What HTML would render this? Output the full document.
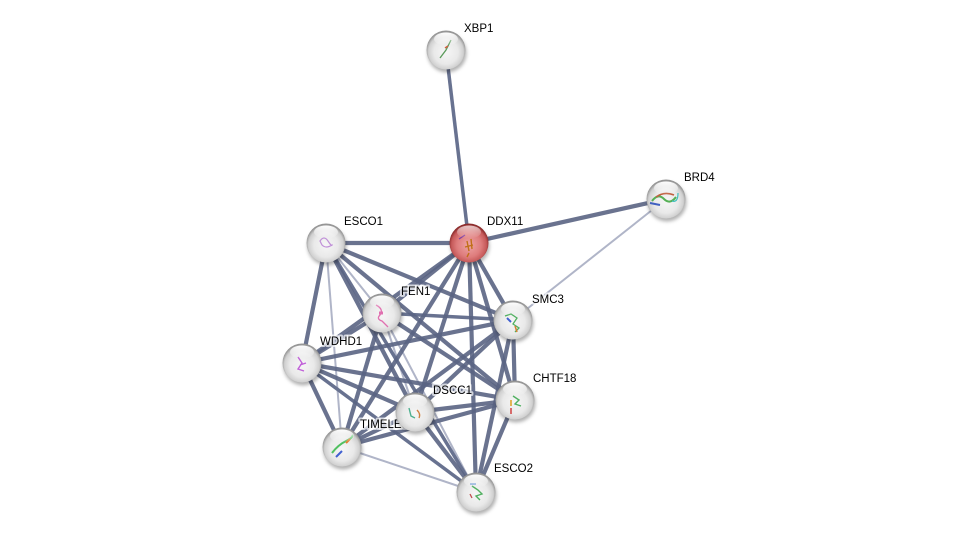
<!DOCTYPE html>
<html><head><meta charset="utf-8"><style>
html,body{margin:0;padding:0;background:#fff;}
svg{display:block;}
.lb{font-family:"Liberation Sans",Arial,sans-serif;font-size:11.5px;fill:#000;paint-order:stroke;stroke:rgba(255,255,255,0.7);stroke-width:4px;stroke-linejoin:round;}
</style></head><body>
<svg width="975" height="536" viewBox="0 0 975 536" xmlns="http://www.w3.org/2000/svg">
<defs>
<radialGradient id="g" cx="50%" cy="55%" r="52%">
<stop offset="0%" stop-color="#f6f6f6"/><stop offset="60%" stop-color="#e9e9e9"/><stop offset="86%" stop-color="#d0d0d0"/><stop offset="100%" stop-color="#959595"/>
</radialGradient>
<radialGradient id="r" cx="50%" cy="55%" r="52%">
<stop offset="0%" stop-color="#eea5a5"/><stop offset="60%" stop-color="#de7c7c"/><stop offset="86%" stop-color="#c65a5a"/><stop offset="100%" stop-color="#8c2c2c"/>
</radialGradient>
<linearGradient id="h" x1="0" y1="0" x2="0" y2="1">
<stop offset="0%" stop-color="#fff" stop-opacity="1"/><stop offset="100%" stop-color="#fff" stop-opacity="0"/>
</linearGradient>
<filter id="sh" x="-50%" y="-50%" width="200%" height="200%"><feGaussianBlur stdDeviation="1.8"/></filter>
</defs>
<g stroke-linecap="butt" fill="none">
<g stroke="#b0b5c8" stroke-width="2">
<line x1="666" y1="199" x2="513" y2="320"/>
<line x1="326" y1="243" x2="342" y2="447"/>
<line x1="326" y1="243" x2="382" y2="313"/>
<line x1="382" y1="313" x2="415" y2="412"/>
<line x1="382" y1="313" x2="476" y2="492"/>
<line x1="342" y1="447" x2="476" y2="492"/>
</g>
<g stroke="#687290" stroke-width="3.5">
<line x1="446" y1="50" x2="469" y2="243"/>
<line x1="326" y1="243" x2="476" y2="492"/>
<line x1="382" y1="313" x2="513" y2="320"/>
<line x1="302" y1="363" x2="476" y2="492"/>
</g>
<g stroke="#5a6483" stroke-width="4.2" stroke-opacity="0.9">
<line x1="469" y1="243" x2="666" y2="199"/>
<line x1="469" y1="243" x2="326" y2="243"/>
<line x1="469" y1="243" x2="382" y2="313"/>
<line x1="469" y1="243" x2="513" y2="320"/>
<line x1="469" y1="243" x2="302" y2="363"/>
<line x1="469" y1="243" x2="515" y2="400"/>
<line x1="469" y1="243" x2="415" y2="412"/>
<line x1="469" y1="243" x2="342" y2="447"/>
<line x1="469" y1="243" x2="476" y2="492"/>
<line x1="326" y1="243" x2="302" y2="363"/>
<line x1="326" y1="243" x2="513" y2="320"/>
<line x1="326" y1="243" x2="515" y2="400"/>
<line x1="326" y1="243" x2="415" y2="412"/>
<line x1="382" y1="313" x2="302" y2="363"/>
<line x1="382" y1="313" x2="515" y2="400"/>
<line x1="382" y1="313" x2="342" y2="447"/>
<line x1="513" y1="320" x2="302" y2="363"/>
<line x1="513" y1="320" x2="515" y2="400"/>
<line x1="513" y1="320" x2="415" y2="412"/>
<line x1="513" y1="320" x2="342" y2="447"/>
<line x1="513" y1="320" x2="476" y2="492"/>
<line x1="302" y1="363" x2="515" y2="400"/>
<line x1="302" y1="363" x2="415" y2="412"/>
<line x1="302" y1="363" x2="342" y2="447"/>
<line x1="515" y1="400" x2="415" y2="412"/>
<line x1="515" y1="400" x2="342" y2="447"/>
<line x1="515" y1="400" x2="476" y2="492"/>
<line x1="415" y1="412" x2="342" y2="447"/>
<line x1="415" y1="412" x2="476" y2="492"/>
</g>
</g>
<g>
<text class="lb" x="464" y="32">XBP1</text>
<text class="lb" x="684" y="181">BRD4</text>
<text class="lb" x="487" y="225">DDX11</text>
<text class="lb" x="344" y="225">ESCO1</text>
<text class="lb" x="401" y="295">FEN1</text>
<text class="lb" x="532" y="303">SMC3</text>
<text class="lb" x="320" y="345">WDHD1</text>
<text class="lb" x="533" y="382">CHTF18</text>
<text class="lb" x="433" y="394">DSCC1</text>
<text class="lb" x="360" y="428">TIMELESS</text>
<text class="lb" x="494" y="472">ESCO2</text>
</g>
<g id="nodes">
<g transform="translate(446,50)"><circle cx="1" cy="3" r="19.5" fill="rgba(0,0,0,0.3)" filter="url(#sh)"/><circle r="19.5" fill="url(#g)"/><path d="M-6 8 L0 0 L3 -6 L5 -10" stroke="#5a9a5a" stroke-width="1.3" fill="none"/><path d="M-1 -2 L2 -4" stroke="#d06040" stroke-width="1.5"/><ellipse cx="0" cy="-11" rx="12" ry="6.5" fill="url(#h)"/></g>
<g transform="translate(666,199)"><circle cx="1" cy="3" r="19.5" fill="rgba(0,0,0,0.3)" filter="url(#sh)"/><circle r="19.5" fill="url(#g)"/><path d="M-14 2 Q-8 -6 -2 0 T10 -2" stroke="#55b055" stroke-width="2" fill="none"/><path d="M-10 -2 Q-2 -8 8 -4" stroke="#c06040" stroke-width="1.6" fill="none"/><path d="M-16 4 L-6 6" stroke="#4060c0" stroke-width="2"/><path d="M6 2 Q12 4 12 -6" stroke="#40c0c0" stroke-width="1.2" fill="none"/><ellipse cx="0" cy="-11" rx="12" ry="6.5" fill="url(#h)"/></g>
<g transform="translate(469,243)"><circle cx="1" cy="3" r="19.5" fill="rgba(0,0,0,0.3)" filter="url(#sh)"/><circle r="19.5" fill="url(#r)"/><path d="M-2 -2 L0 8 M2 -4 L3 6 M-4 4 L4 2 M0 10 L-2 14" stroke="#c07018" stroke-width="1.4" fill="none"/><path d="M-10 -4 L-4 -8" stroke="#8040a0" stroke-width="1.3"/><ellipse cx="0" cy="-11" rx="12" ry="6.5" fill="url(#h)" opacity="0.7"/></g>
<g transform="translate(326,243)"><circle cx="1" cy="3" r="19.5" fill="rgba(0,0,0,0.3)" filter="url(#sh)"/><circle r="19.5" fill="url(#g)"/><path d="M-6 -2 Q-2 -8 2 -2 T6 2 Q0 6 -4 2 Z" stroke="#c090d8" stroke-width="1.2" fill="none"/><ellipse cx="0" cy="-11" rx="12" ry="6.5" fill="url(#h)"/></g>
<g transform="translate(382,313)"><circle cx="1" cy="3" r="19.5" fill="rgba(0,0,0,0.3)" filter="url(#sh)"/><circle r="19.5" fill="url(#g)"/><path d="M-6 -8 Q2 -4 -2 2 Q-6 6 0 8 Q4 12 6 14" stroke="#e070b0" stroke-width="1.3" fill="none"/><path d="M-3 0 L1 0" stroke="#e070b0" stroke-width="3"/><ellipse cx="0" cy="-11" rx="12" ry="6.5" fill="url(#h)"/></g>
<g transform="translate(513,320)"><circle cx="1" cy="3" r="19.5" fill="rgba(0,0,0,0.3)" filter="url(#sh)"/><circle r="19.5" fill="url(#g)"/><path d="M-8 -4 L-2 -6 L4 -2 L0 4 L6 8 L2 12" stroke="#50b060" stroke-width="1.3" fill="none"/><path d="M-6 -2 L-2 2" stroke="#4060d0" stroke-width="2"/><path d="M2 6 L4 12" stroke="#d08030" stroke-width="1.5"/><ellipse cx="0" cy="-11" rx="12" ry="6.5" fill="url(#h)"/></g>
<g transform="translate(302,363)"><circle cx="1" cy="3" r="19.5" fill="rgba(0,0,0,0.3)" filter="url(#sh)"/><circle r="19.5" fill="url(#g)"/><path d="M-4 -6 L0 0 L-4 6 L2 8 M-2 2 L4 0" stroke="#c060d8" stroke-width="1.4" fill="none"/><ellipse cx="0" cy="-11" rx="12" ry="6.5" fill="url(#h)"/></g>
<g transform="translate(515,400)"><circle cx="1" cy="3" r="19.5" fill="rgba(0,0,0,0.3)" filter="url(#sh)"/><circle r="19.5" fill="url(#g)"/><path d="M-2 -4 L4 0 L0 4 L6 6" stroke="#50b060" stroke-width="1.4" fill="none"/><path d="M-4 0 L-4 6" stroke="#e0a020" stroke-width="1.5"/><path d="M-4 8 L-4 14" stroke="#d04040" stroke-width="1.5"/><ellipse cx="0" cy="-11" rx="12" ry="6.5" fill="url(#h)"/></g>
<g transform="translate(415,412)"><circle cx="1" cy="3" r="19.5" fill="rgba(0,0,0,0.3)" filter="url(#sh)"/><circle r="19.5" fill="url(#g)"/><path d="M-6 -4 L-4 4 L0 6" stroke="#50b090" stroke-width="1.4" fill="none"/><path d="M2 -2 Q6 2 4 6" stroke="#d08040" stroke-width="1.4" fill="none"/><ellipse cx="0" cy="-11" rx="12" ry="6.5" fill="url(#h)"/></g>
<g transform="translate(342,447)"><circle cx="1" cy="3" r="19.5" fill="rgba(0,0,0,0.3)" filter="url(#sh)"/><circle r="19.5" fill="url(#g)"/><path d="M-10 6 Q-4 -2 4 -6 T10 -12" stroke="#50c060" stroke-width="2" fill="none"/><path d="M-6 10 L0 4" stroke="#4060d0" stroke-width="2"/><path d="M4 -4 L8 -8" stroke="#e08030" stroke-width="2"/><ellipse cx="0" cy="-11" rx="12" ry="6.5" fill="url(#h)"/></g>
<g transform="translate(476,492)"><circle cx="1" cy="3" r="19.5" fill="rgba(0,0,0,0.3)" filter="url(#sh)"/><circle r="19.5" fill="url(#g)"/><path d="M-4 -6 L2 -2 L6 2 L0 4 L4 8" stroke="#50b060" stroke-width="1.4" fill="none"/><path d="M-6 -8 L0 -8" stroke="#6090d0" stroke-width="1.4"/><path d="M-6 2 L-4 6" stroke="#c05050" stroke-width="1.3"/><ellipse cx="0" cy="-11" rx="12" ry="6.5" fill="url(#h)"/></g>
</g>
</svg>
</body></html>
